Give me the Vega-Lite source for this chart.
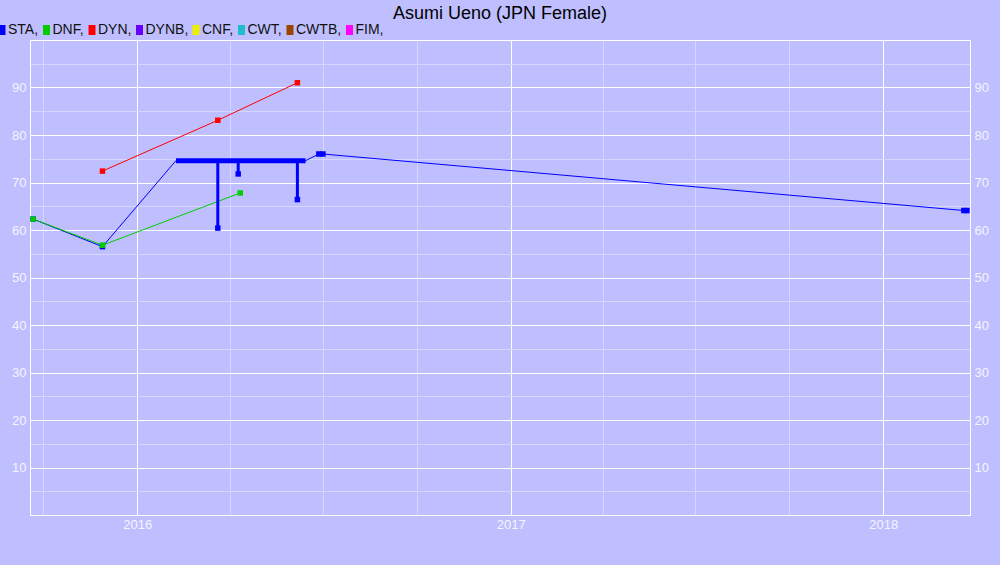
{
  "$schema": "https://vega.github.io/schema/vega-lite/v6.json",
  "width": 940,
  "height": 475,
  "autosize": "none",
  "padding": {"left": 30, "top": 40, "right": 30, "bottom": 50},
  "background": "#BFBFFF",
  "title": {"text": "Asumi Ueno (JPN Female)", "font": "Liberation Sans", "fontSize": 18, "fontWeight": "normal", "color": "#000000", "anchor": "middle", "offset": 0},
  "config": {
    "view": {"stroke": "#FFFFFF", "strokeWidth": 1},
    "axis": {"labelFont": "Liberation Sans", "labelFontSize": 13, "labelColor": "#F4F4FF", "ticks": false, "domainColor": "#FFFFFF", "title": null, "labelFlush": false, "labelOverlap": false, "gridOpacity": 1, "gridWidth": 1}
  },
  "datasets": {
    "line": [
      {"series": "STA", "date": "2015-09-21", "value": 62.3},
      {"series": "STA", "date": "2015-11-28", "value": 56.5},
      {"series": "STA", "date": "2016-02-08", "value": 74.6},
      {"series": "STA", "date": "2016-06-14", "value": 74.6},
      {"series": "STA", "date": "2016-06-27", "value": 76.0},
      {"series": "STA", "date": "2016-07-01", "value": 76.0},
      {"series": "STA", "date": "2018-03-21", "value": 64.1},
      {"series": "STA", "date": "2018-03-24", "value": 64.1},
      {"series": "DNF", "date": "2015-09-21", "value": 62.3},
      {"series": "DNF", "date": "2015-11-28", "value": 56.8},
      {"series": "DNF", "date": "2016-04-11", "value": 67.8},
      {"series": "DYN", "date": "2015-11-28", "value": 72.4},
      {"series": "DYN", "date": "2016-03-20", "value": 83.1},
      {"series": "DYN", "date": "2016-06-06", "value": 91.0}
    ],
    "pts": [
      {"series": "STA", "date": "2015-09-21", "value": 62.3},
      {"series": "STA", "date": "2015-11-28", "value": 56.5},
      {"series": "STA", "date": "2016-03-20", "value": 60.4},
      {"series": "STA", "date": "2016-04-09", "value": 71.8},
      {"series": "STA", "date": "2016-06-06", "value": 66.4},
      {"series": "STA", "date": "2016-06-27", "value": 76.0},
      {"series": "STA", "date": "2016-07-01", "value": 76.0},
      {"series": "STA", "date": "2018-03-21", "value": 64.1},
      {"series": "STA", "date": "2018-03-24", "value": 64.1},
      {"series": "DNF", "date": "2015-09-21", "value": 62.3},
      {"series": "DNF", "date": "2015-11-28", "value": 56.8},
      {"series": "DNF", "date": "2016-04-11", "value": 67.8},
      {"series": "DYN", "date": "2015-11-28", "value": 72.4},
      {"series": "DYN", "date": "2016-03-20", "value": 83.1},
      {"series": "DYN", "date": "2016-06-06", "value": 91.0}
    ],
    "bar": [
      {"series": "STA", "start": "2016-02-08", "end": "2016-06-14", "value": 74.6}
    ],
    "drop": [
      {"series": "STA", "date": "2016-03-20", "top": 74.6, "value": 60.4},
      {"series": "STA", "date": "2016-04-09", "top": 74.6, "value": 71.8},
      {"series": "STA", "date": "2016-06-06", "top": 74.6, "value": 66.4}
    ]
  },
  "layer": [
    {
      "data": {"name": "line"},
      "mark": {"type": "line", "strokeWidth": 1, "clip": true},
      "encoding": {
        "x": {
          "field": "date", "type": "temporal",
          "scale": {"domain": [{"year": 2015, "month": 9, "date": 18}, {"year": 2018, "month": 3, "date": 27}]},
          "axis": {
            "values": [
              {"year": 2015, "month": 10, "date": 1},
              {"year": 2016, "month": 1, "date": 1},
              {"year": 2016, "month": 4, "date": 1},
              {"year": 2016, "month": 7, "date": 1},
              {"year": 2016, "month": 10, "date": 1},
              {"year": 2017, "month": 1, "date": 1},
              {"year": 2017, "month": 4, "date": 1},
              {"year": 2017, "month": 7, "date": 1},
              {"year": 2017, "month": 10, "date": 1},
              {"year": 2018, "month": 1, "date": 1}
            ],
            "labelExpr": "month(datum.value) == 0 ? timeFormat(datum.value, '%Y') : ''",
            "labelPadding": 3,
            "grid": true,
            "gridColor": {"condition": {"test": "month(datum.value) == 0", "value": "#FFFFFF"}, "value": "#D6D6FF"}
          }
        },
        "y": {
          "field": "value", "type": "quantitative",
          "scale": {"domain": [0, 100], "nice": false, "zero": false},
          "axis": {
            "orient": "left",
            "values": [0, 5, 10, 15, 20, 25, 30, 35, 40, 45, 50, 55, 60, 65, 70, 75, 80, 85, 90, 95, 100],
            "labelExpr": "(datum.value % 10 == 0 && datum.value > 0 && datum.value < 100) ? datum.label : ''",
            "labelPadding": 4,
            "grid": true,
            "gridColor": {"condition": {"test": "datum.value % 10 == 0", "value": "#FFFFFF"}, "value": "#D6D6FF"}
          }
        },
        "color": {
          "field": "series", "type": "nominal",
          "scale": {
            "domain": ["STA", "DNF", "DYN", "DYNB", "CNF", "CWT", "CWTB", "FIM"],
            "range": ["#0000FF", "#00CC00", "#FF0000", "#6600FF", "#EEEE00", "#22BBCC", "#994400", "#FF00FF"]
          },
          "legend": {
            "orient": "none",
            "legendX": -35,
            "legendY": -17,
            "direction": "horizontal",
            "title": null,
            "padding": 0,
            "symbolType": "M-0.7,-1H0.7V1H-0.7Z",
            "symbolSize": 100,
            "symbolStrokeWidth": 0,
            "symbolOpacity": 1,
            "labelFont": "Liberation Sans",
            "labelFontSize": 14,
            "labelColor": "#111111",
            "labelOffset": -1,
            "columnPadding": 0.5,
            "labelExpr": "datum.label + ','",
            "encode": {"symbols": {
              "update": {"fill": {"scale": "color", "field": "value"}, "stroke": {"value": "transparent"}, "size": {"value": 100}, "shape": {"value": "M-0.7,-1H0.7V1H-0.7Z"}}
            }}
          }
        }
      }
    },
    {
      "data": {"name": "bar"},
      "mark": {"type": "rule", "strokeWidth": 5, "clip": true},
      "encoding": {
        "x": {"field": "start", "type": "temporal"},
        "x2": {"field": "end"},
        "y": {"field": "value", "type": "quantitative", "scale": {"domain": [0, 100], "nice": false, "zero": false}, "axis": null},
        "color": {"field": "series", "type": "nominal"}
      }
    },
    {
      "data": {"name": "drop"},
      "mark": {"type": "rule", "strokeWidth": 3, "clip": true},
      "encoding": {
        "x": {"field": "date", "type": "temporal"},
        "y": {"field": "top", "type": "quantitative", "scale": {"domain": [0, 100], "nice": false, "zero": false}, "axis": null},
        "y2": {"field": "value"},
        "color": {"field": "series", "type": "nominal"}
      }
    },
    {
      "data": {"name": "pts"},
      "mark": {"type": "point", "shape": "square", "filled": true, "opacity": 1, "clip": true},
      "encoding": {
        "x": {"field": "date", "type": "temporal"},
        "y": {
          "field": "value", "type": "quantitative",
          "scale": {"domain": [0, 100], "nice": false, "zero": false},
          "axis": {
            "orient": "right",
            "values": [10, 20, 30, 40, 50, 60, 70, 80, 90],
            "labelPadding": 4,
            "grid": false
          }
        },
        "color": {"field": "series", "type": "nominal"}
      }
    }
  ],
  "resolve": {"scale": {"y": "independent"}, "axis": {"y": "independent"}}
}
